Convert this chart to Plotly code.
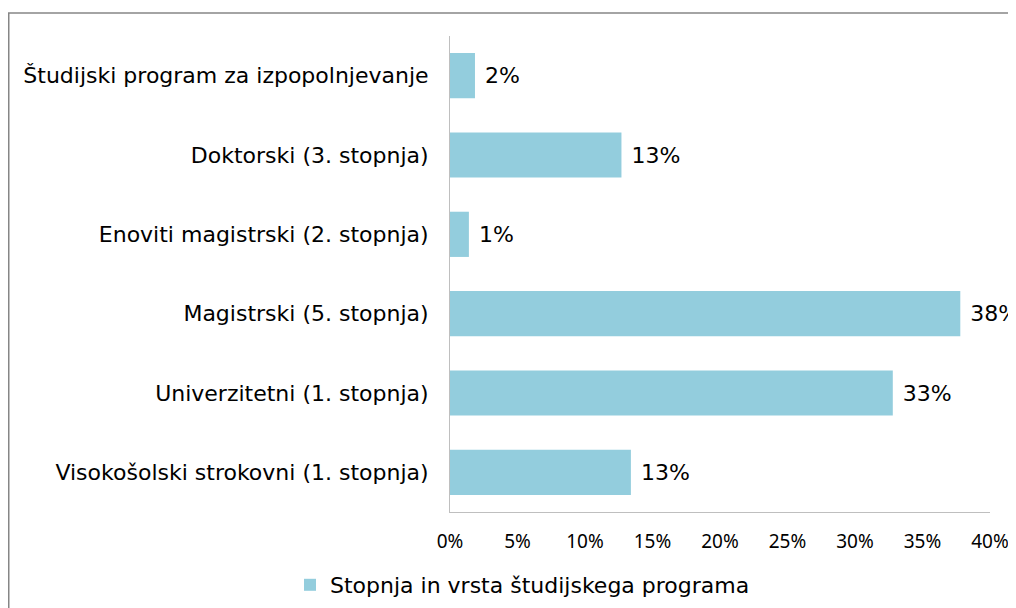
import plotly.graph_objects as go

categories = [
    "Študijski program za izpopolnjevanje",
    "Doktorski (3. stopnja)",
    "Enoviti magistrski (2. stopnja)",
    "Magistrski (5. stopnja)",
    "Univerzitetni (1. stopnja)",
    "Visokošolski strokovni (1. stopnja)",
]
values = [1.85, 12.7, 1.4, 37.8, 32.8, 13.4]  # percent
labels = ["2%", "13%", "1%", "38%", "33%", "13%"]
x_ticks = [0, 5, 10, 15, 20, 25, 30, 35, 40]
x_tick_labels = ["0%", "5%", "10%", "15%", "20%", "25%", "30%", "35%", "40%"]
series_name = "Stopnja in vrsta študijskega programa"

FONT = "DejaVu Sans"
TICKFONT = "Noto Sans"
BAR = "#93CDDD"

# figure is drawn inside the page's default 8px body margin
W, H = 1016, 600
L, R, T, B = 442, 34, 28, 96
PW, PH = W - L - R, H - T - B

fig = go.Figure()
fig.add_trace(go.Bar(
    y=categories,
    x=values,
    orientation="h",
    name=series_name,
    marker=dict(color=BAR, line=dict(width=0)),
    text=[" " + t for t in labels],
    textposition="outside",
    textfont=dict(family=FONT, size=22, color="#000000"),
    cliponaxis=False,
    showlegend=True,
))

fig.update_layout(
    width=W,
    height=H,
    margin=dict(l=L, r=R, t=T, b=B, pad=0, autoexpand=False),
    paper_bgcolor="white",
    plot_bgcolor="white",
    bargap=0.43,
    font=dict(family=FONT, color="#000000"),
    xaxis=dict(
        range=[0, 40],
        tickvals=x_ticks,
        ticktext=x_tick_labels,
        showgrid=False,
        zeroline=False,
        showline=True,
        linecolor="#BFBFBF",
        linewidth=1,
        ticks="",
        ticklabelstandoff=12,
        tickfont=dict(family=TICKFONT, size=19, color="#000000"),
        fixedrange=True,
        automargin=False,
    ),
    yaxis=dict(
        autorange="reversed",
        showgrid=False,
        zeroline=False,
        showline=True,
        linecolor="#BFBFBF",
        linewidth=1,
        ticks="",
        ticklabelstandoff=16,
        tickfont=dict(family=FONT, size=22, color="#000000"),
        automargin=False,
    ),
    legend=dict(
        orientation="h",
        x=(282 - L) / PW,
        xanchor="left",
        y=-73 / PH,
        yanchor="middle",
        font=dict(family=FONT, size=22, color="#000000"),
        itemwidth=30,
    ),
    shapes=[dict(
        type="rect",
        xref="paper", yref="paper",
        x0=(0.75 - L) / PW, x1=1.3,
        y0=-0.5, y1=(PH + T - 5) / PH,
        line=dict(color="#868686", width=1.5),
        fillcolor="rgba(0,0,0,0)",
        layer="below",
    )],
)

fig.write_html("out.html")
